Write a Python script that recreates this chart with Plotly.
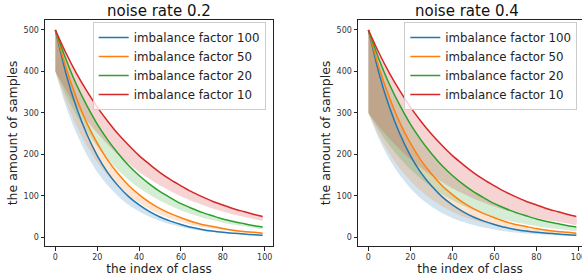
import plotly.graph_objects as go

# class indices sampled along the x axis
class_index = [0, 5, 10, 15, 20, 25, 30, 35, 40, 45, 50, 55, 60, 65, 70, 75, 80, 85, 90, 95, 99]

# amount of samples per class
factor_100 = [500, 396, 314, 249, 197, 156, 124, 98, 78, 62, 49, 39, 31, 24, 19, 15, 12, 10, 8, 6, 5]
factor_50 = [500, 410, 337, 276, 227, 186, 153, 125, 103, 84, 69, 57, 47, 38, 31, 26, 21, 17, 14, 12, 10]
factor_20 = [500, 430, 369, 318, 273, 235, 202, 173, 149, 128, 110, 95, 81, 70, 60, 52, 44, 38, 33, 28, 25]
factor_10 = [500, 445, 396, 353, 314, 280, 249, 222, 197, 176, 156, 139, 124, 110, 98, 87, 78, 69, 62, 55, 50]

series_names = ["imbalance factor 100", "imbalance factor 50", "imbalance factor 20", "imbalance factor 10"]
series_values = [factor_100, factor_50, factor_20, factor_10]
noise_rates = [0.2, 0.4]
panel_titles = ["noise rate 0.2", "noise rate 0.4"]
x_ticks = [0, 20, 40, 60, 80, 100]
y_ticks = [0, 100, 200, 300, 400, 500]

line_colors = ["#1f77b4", "#ff7f0e", "#2ca02c", "#d62728"]
fill_colors = ["rgba(31,119,180,0.2)", "rgba(255,127,14,0.2)", "rgba(44,160,44,0.2)", "rgba(214,39,40,0.2)"]

W, H = 582, 280
FONT = "DejaVu Sans"

fig = go.Figure()

axes = [("x", "y"), ("x2", "y2")]
legends = ["legend", "legend2"]

for p, noise in enumerate(noise_rates):
    xa, ya = axes[p]
    # bands first (below all lines)
    for k, vals in enumerate(series_values):
        lower = [v * (1 - noise) for v in vals]
        fig.add_trace(go.Scatter(
            x=class_index + class_index[::-1],
            y=vals + lower[::-1],
            fill="toself", fillcolor=fill_colors[k],
            line=dict(width=0, shape="spline", smoothing=0.6),
            mode="lines", hoverinfo="skip", showlegend=False,
            xaxis=xa, yaxis=ya,
        ))
    for k, vals in enumerate(series_values):
        fig.add_trace(go.Scatter(
            x=class_index, y=vals, mode="lines",
            line=dict(color=line_colors[k], width=1.5, shape="spline", smoothing=0.6),
            name=series_names[k], legend=legends[p],
            xaxis=xa, yaxis=ya,
        ))

def px_x(v):
    return v / W

def px_y(v):
    return 1 - v / H

axis_common = dict(
    showline=True, linecolor="#222", linewidth=1, mirror=True,
    ticks="outside", ticklen=3.5, tickwidth=0.8, tickcolor="#222",
    showgrid=False, zeroline=False, automargin=False,
    ticklabeloverflow="allow",
    tickfont=dict(family=FONT, size=8, color="#333"),
)

y_dom = [px_y(246), px_y(20)]
xtitle = dict(text="the index of class", font=dict(family=FONT, size=12, color="#222"), standoff=2)
ytitle = dict(text="the amount of samples", font=dict(family=FONT, size=12.5, color="#222"), standoff=3)

legend_common = dict(xanchor="left", yanchor="top",
                     bgcolor="rgba(255,255,255,0.8)", bordercolor="#cccccc", borderwidth=1,
                     font=dict(family=FONT, size=11.8, color="#222"), tracegroupgap=0)

fig.update_layout(
    width=W, height=H,
    margin=dict(l=0, r=0, t=0, b=0, autoexpand=False),
    paper_bgcolor="white", plot_bgcolor="white",
    showlegend=True,
    xaxis=dict(domain=[px_x(45), px_x(273)], range=[-4.95, 103.95], tickvals=x_ticks,
               title=xtitle, anchor="y", **axis_common),
    yaxis=dict(domain=y_dom, range=[-21, 524], tickvals=y_ticks,
               title=ytitle, anchor="x", **axis_common),
    xaxis2=dict(domain=[px_x(358), 1.0], range=[-4.95, 101.7], tickvals=x_ticks,
                title=xtitle, anchor="y2", **axis_common),
    yaxis2=dict(domain=y_dom, range=[-21, 524], tickvals=y_ticks,
                title=ytitle, anchor="x2", **axis_common),
    legend=dict(x=px_x(92.7), y=px_y(22), **legend_common),
    legend2=dict(x=px_x(404.3), y=px_y(22), **legend_common),
)

title_centers = [159, 467]
for p, t in enumerate(panel_titles):
    fig.add_annotation(text=t, xref="paper", yref="paper",
                       x=px_x(title_centers[p]), y=px_y(11.5),
                       xanchor="center", yanchor="middle", showarrow=False,
                       font=dict(family=FONT, size=15, color="#111"))

fig.write_html("out.html", config={"displayModeBar": False},
               post_script="document.body.style.margin='0';document.body.style.overflow='hidden';")
